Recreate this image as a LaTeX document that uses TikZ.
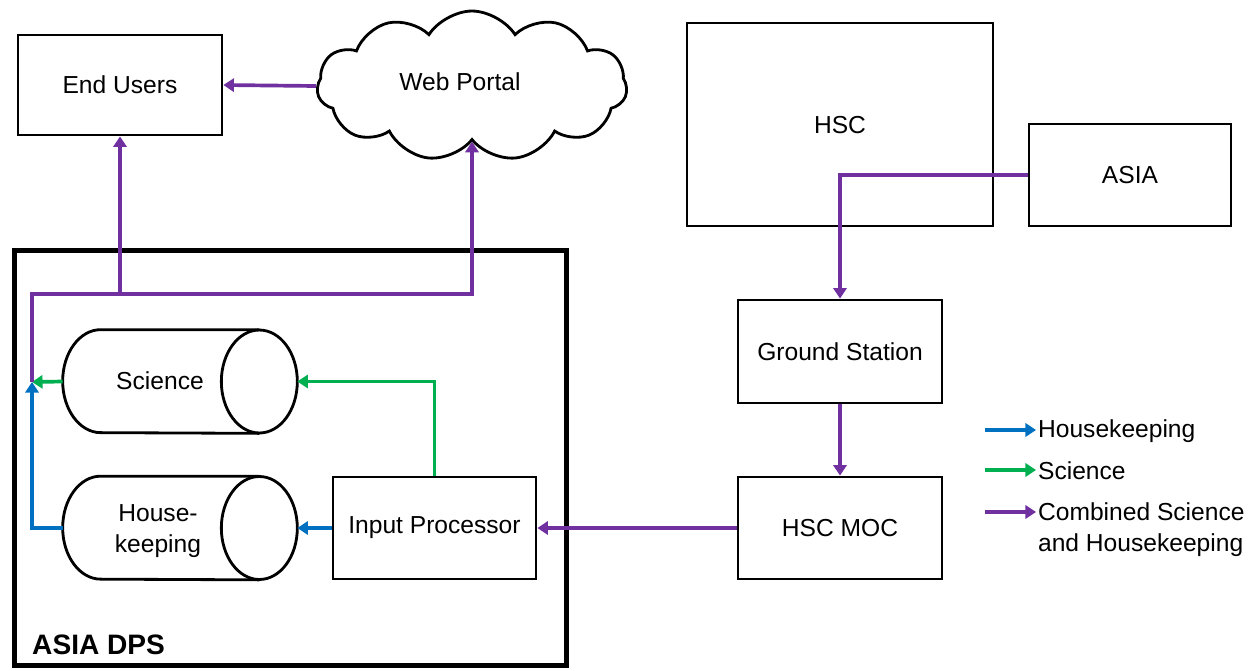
\documentclass[tikz,border=0pt]{standalone}
\usepackage{fontspec}
\setmainfont{Liberation Sans}
\usetikzlibrary{shapes.symbols,arrows.meta}
\definecolor{cpur}{HTML}{7030A0}
\definecolor{cgrn}{HTML}{00B050}
\definecolor{cblu}{HTML}{0070C0}
\newcommand\drawcyl[1]{%
  \draw[line width=1.6pt]
    ([xshift=-0.76cm]#1.north east) -- ([xshift=0.76cm]#1.north west)
    arc[start angle=90,end angle=270,x radius=0.76cm,y radius=1.03cm]
    -- ([xshift=-0.76cm]#1.south east);
  \draw[line width=1.6pt] ([xshift=-0.76cm]#1.east) ellipse[x radius=0.76cm,y radius=1.03cm];}
\begin{document}
\begin{tikzpicture}[x=0.02cm,y=-0.02cm,
  every node/.style={font=\fontsize{14}{17.5}\selectfont},
  box/.style={draw,line width=1.6pt,rectangle,inner sep=0pt},
  cylarea/.style={rectangle,minimum width=4.68cm,minimum height=2.06cm,inner sep=0pt},
  con/.style={line width=2.1pt,-{Triangle[length=6pt,width=7.5pt]}},
  pur/.style={con,color=cpur},
  grn/.style={con,color=cgrn},
  blu/.style={con,color=cblu}]
\useasboundingbox (0,0) rectangle (1260,670);
% outer DPS box
\node[draw,line width=3pt,rectangle,inner sep=0pt,minimum width=552*0.02cm,minimum height=415*0.02cm] (dps) at (290.5,458) {};
\node[anchor=west,font=\fontsize{16}{19}\selectfont\bfseries] (dpslbl) at (26,645) {ASIA DPS};
% boxes
\node[box,minimum width=4.08cm,minimum height=2.0cm] (eu) at (120,85) {End Users};
\node[draw,line width=1.6pt,cloud,cloud puffs=11,cloud puff arc=115,aspect=2.1,
  minimum width=6.2cm,minimum height=3.0cm,inner sep=0pt] (wp) at (472,86) {};
\node (wpt) at (460,82) {Web Portal};
\node[box,minimum width=6.12cm,minimum height=4.06cm] (hsc) at (840,124.5) {};
\node (hsct) at (840,125) {HSC};
\node[box,minimum width=4.04cm,minimum height=2.04cm] (asia) at (1130,175) {ASIA};
\node[box,minimum width=4.08cm,minimum height=2.06cm] (gs) at (840,351.5) {Ground Station};
\node[box,minimum width=4.08cm,minimum height=2.04cm] (moc) at (840,528) {HSC MOC};
\node[box,minimum width=4.06cm,minimum height=2.04cm] (ip) at (434.5,528) {Input Processor};
\node[cylarea] (sci) at (180,381.5) {};
\drawcyl{sci}
\node (scit) at (160,381) {Science};
\node[cylarea] (hk) at (180,528) {};
\drawcyl{hk}
\node[align=center] (hkt) at (158,531) {House-\\keeping};
% coordinates
\coordinate (j) at (32,382);
\coordinate (bend) at (32,294);
\coordinate (split) at (120,294);
% connectors
\draw[pur] (asia.west) -| (gs.north);
\draw[pur] (gs.south) -- (moc.north);
\draw[pur] (moc.west) -- (ip.east);
\draw[grn] (ip.north) |- (sci.east);
\draw[blu] (ip.west) -- (hk.east);
\draw[blu] (hk.west) -| (j);
\draw[grn] (sci.west) -- (j);
\draw[pur] (j) -- (bend) -| (eu.south);
\draw[pur] (split) -| (wp.south);
\draw[pur] (wp.west) -- (eu.east);
% legend
\coordinate (l1s) at (985,430); \coordinate (l1e) at (1036,430);
\coordinate (l2s) at (985,470); \coordinate (l2e) at (1036,470);
\coordinate (l3s) at (985,512); \coordinate (l3e) at (1036,512);
\node[anchor=west,inner sep=1pt] (lg1) at (1036,431) {Housekeeping};
\node[anchor=west,inner sep=1pt] (lg2) at (1036,471) {Science};
\node[anchor=north west,align=left,inner sep=1pt] (lg3) at (1036,501) {Combined Science\\and Housekeeping};
\draw[blu] (l1s) -- (l1e);
\draw[grn] (l2s) -- (l2e);
\draw[pur] (l3s) -- (l3e);
\end{tikzpicture}
\end{document}
